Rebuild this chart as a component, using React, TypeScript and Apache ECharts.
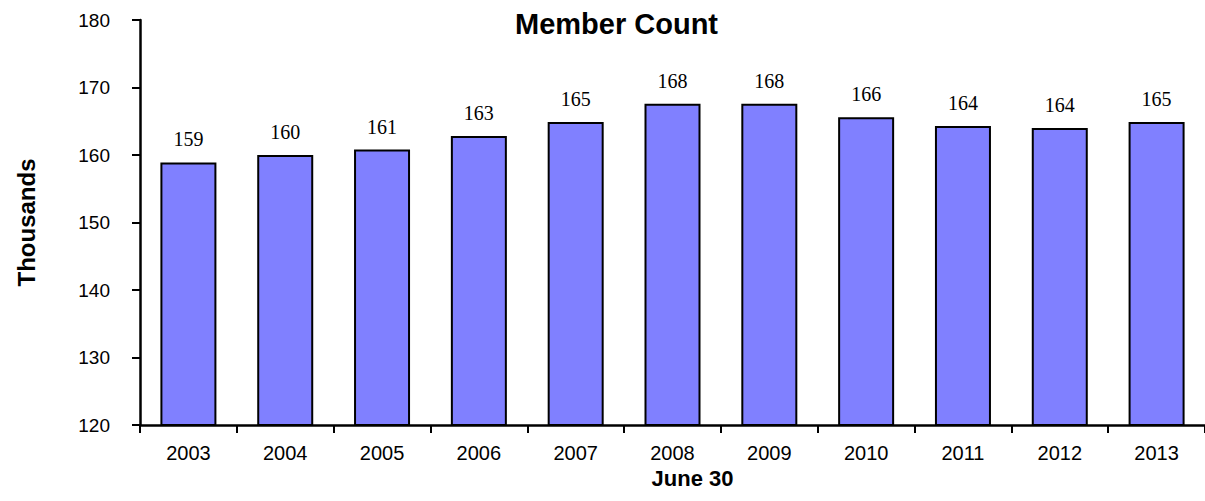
import React, { useEffect, useRef } from "react";
import * as echarts from "echarts";

const categories = ["2003", "2004", "2005", "2006", "2007", "2008", "2009", "2010", "2011", "2012", "2013"];
const memberCount = [158.9, 160.0, 160.8, 162.8, 164.9, 167.6, 167.6, 165.6, 164.3, 164.0, 164.9];
const yMin = 120;
const yMax = 180;
const yStep = 10;

const SANS = "'Liberation Sans', Arial, sans-serif";
const SERIF = "'Liberation Serif', 'Times New Roman', serif";

export default function App() {
  const ref = useRef<HTMLDivElement>(null);
  useEffect(() => {
    document.body.style.margin = "0";
    if (!ref.current) return;
    const chart = echarts.init(ref.current, undefined, { renderer: "svg" });
    chart.setOption({
      animation: false,
      backgroundColor: "#ffffff",
      title: {
        text: "Member Count",
        left: 510,
        top: 4,
        textStyle: { fontFamily: SANS, fontSize: 29, fontWeight: "bold", color: "#000" },
      },
      grid: { left: 140, top: 20, width: 1080, height: 405 },
      xAxis: {
        type: "category",
        data: categories,
        name: "June 30",
        nameLocation: "middle",
        nameGap: 42,
        nameTextStyle: { fontFamily: SANS, fontSize: 22, fontWeight: "bold", color: "#000", padding: [0, 0, 0, 40] },
        axisLine: { lineStyle: { color: "#000", width: 2.5 } },
        axisTick: { show: true, length: 8, lineStyle: { color: "#000", width: 2 } },
        axisLabel: { fontFamily: SANS, fontSize: 20, color: "#000", margin: 18 },
        splitLine: { show: false },
      },
      yAxis: {
        type: "value",
        min: yMin,
        max: yMax,
        interval: yStep,
        name: "Thousands",
        nameLocation: "middle",
        nameRotate: 90,
        nameGap: 102,
        nameTextStyle: { fontFamily: SANS, fontSize: 24, fontWeight: "bold", color: "#000" },
        axisLine: { show: true, lineStyle: { color: "#000", width: 2.5 } },
        axisTick: { show: true, length: 8, lineStyle: { color: "#000", width: 2 } },
        axisLabel: { fontFamily: SANS, fontSize: 19, color: "#000", margin: 30 },
        splitLine: { show: false },
      },
      series: [
        {
          type: "bar",
          data: memberCount,
          barWidth: 56,
          itemStyle: { color: "#8080FF", borderColor: "#000", borderWidth: 2 },
          label: {
            show: true,
            position: "top",
            distance: 13,
            fontFamily: SERIF,
            fontSize: 20,
            color: "#000",
            formatter: (p: any) => String(Math.round(p.value)),
          },
        },
      ],
    });
    return () => chart.dispose();
  }, []);
  return <div ref={ref} style={{ width: 1205, height: 501 }} />;
}
